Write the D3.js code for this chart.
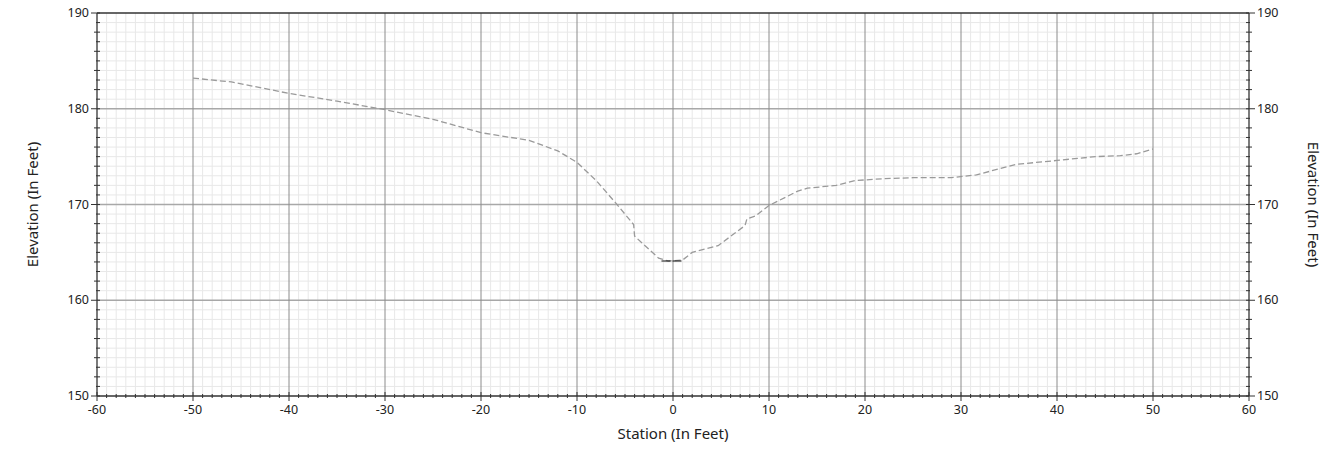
<!DOCTYPE html>
<html>
<head>
<meta charset="utf-8">
<script src="https://cdn.jsdelivr.net/npm/d3@7"></script>
<style>
  body { margin: 0; background: #fff; }
  svg text { font-family: "Noto Sans", "Open Sans", sans-serif; fill: #222; }
</style>
</head>
<body>
<div id="chart"></div>
<script>
// profile data (station, elevation)
const stations = [-50, -46, -43, -40, -35, -30, -25, -20, -15, -12, -10, -8, -6, -4.1, -4.0, -1.5, -0.5, 1, 2, 4.7, 7.5, 7.7, 8.6, 10, 13, 14, 17, 19, 22, 25, 29, 31.6, 35.8, 40, 44, 46.6, 48.3, 50]
const elevations = [183.2, 182.8, 182.2, 181.6, 180.8, 179.9, 178.9, 177.5, 176.7, 175.6, 174.4, 172.5, 170.2, 167.9, 166.7, 164.4, 164.1, 164.2, 165.0, 165.7, 167.8, 168.5, 168.8, 169.9, 171.4, 171.7, 172.0, 172.5, 172.7, 172.8, 172.8, 173.1, 174.2, 174.6, 175.0, 175.1, 175.3, 175.8]
const waterStations = [-1.2, 0.9]
const waterElevation = 164.1

const xTicks = [-60, -50, -40, -30, -20, -10, 0, 10, 20, 30, 40, 50, 60]
const yTicks = [150, 160, 170, 180, 190]

const w = 1324
const h = 450
const margin = {top: 13, right: 75, bottom: 54, left: 97}

const svg = d3.select("#chart")
  .append("svg")
    .attr("width", w)
    .attr("height", h)

const x = d3.scaleLinear().domain([-60, 60]).range([margin.left, w - margin.right])
const y = d3.scaleLinear().domain([150, 190]).range([h - margin.bottom, margin.top])

const x0 = x.range()[0], x1 = x.range()[1]
const y0 = y.range()[0], y1 = y.range()[1]

// minor grid every 1 ft
svg.append("g")
  .selectAll("line")
  .data(d3.range(-60, 61).filter(d => d % 10 !== 0))
  .join("line")
    .attr("x1", d => x(d)).attr("x2", d => x(d))
    .attr("y1", y1).attr("y2", y0)
    .attr("stroke", "#e8e8e8")
svg.append("g")
  .selectAll("line")
  .data(d3.range(150, 191).filter(d => d % 10 !== 0))
  .join("line")
    .attr("x1", x0).attr("x2", x1)
    .attr("y1", d => y(d)).attr("y2", d => y(d))
    .attr("stroke", "#e8e8e8")

// major grid
svg.append("g")
  .selectAll("line")
  .data(yTicks.slice(1, -1))
  .join("line")
    .attr("x1", x0).attr("x2", x1)
    .attr("y1", d => y(d)).attr("y2", d => y(d))
    .attr("stroke", "#a8a8a8")
    .attr("stroke-width", 1.3)
svg.append("g")
  .selectAll("line")
  .data(xTicks.slice(1, -1))
  .join("line")
    .attr("x1", d => x(d)).attr("x2", d => x(d))
    .attr("y1", y1).attr("y2", y0)
    .attr("stroke", "#8c8c8c")

// ground profile
const pts = stations.map((s, i) => [s, elevations[i]])
svg.append("path")
  .datum(pts)
  .attr("fill", "none")
  .attr("stroke", "#9a9a9a")
  .attr("stroke-width", 1.3)
  .attr("stroke-dasharray", "6,3")
  .attr("d", d3.line().x(d => x(d[0])).y(d => y(d[1])))

// water surface
svg.append("line")
  .attr("x1", x(waterStations[0])).attr("x2", x(waterStations[1]))
  .attr("y1", y(waterElevation)).attr("y2", y(waterElevation))
  .attr("stroke", "#111")
  .attr("stroke-width", 1.2)
  .attr("stroke-dasharray", "9,2")

// axes
const minorX = d3.range(-60, 61)
const minorY = d3.range(150, 191)

const bottom = svg.append("g").attr("transform", `translate(0,${y0})`)
bottom.append("line").attr("x1", x0).attr("x2", x1).attr("stroke", "#333").attr("stroke-width", 1.3)
bottom.selectAll(".mt").data(minorX).join("line")
  .attr("x1", d => x(d)).attr("x2", d => x(d))
  .attr("y1", d => d % 10 === 0 ? -4 : -2).attr("y2", d => d % 10 === 0 ? 5 : 2)
  .attr("stroke", "#333")
bottom.selectAll("text").data(xTicks).join("text")
  .attr("x", d => x(d)).attr("y", 18)
  .attr("text-anchor", "middle")
  .style("font-size", "12.5px")
  .text(d => d)

svg.append("line").attr("x1", x0).attr("x2", x1).attr("y1", y1).attr("y2", y1)
  .attr("stroke", "#333").attr("stroke-width", 1.3)

const left = svg.append("g").attr("transform", `translate(${x0},0)`)
left.append("line").attr("y1", y1).attr("y2", y0).attr("stroke", "#333").attr("stroke-width", 1.3)
left.selectAll(".mt").data(minorY).join("line")
  .attr("y1", d => y(d)).attr("y2", d => y(d))
  .attr("x1", d => d % 10 === 0 ? -6 : (d % 2 === 0 ? -3 : -1)).attr("x2", 3)
  .attr("stroke", "#333")
left.selectAll("text").data(yTicks).join("text")
  .attr("x", -8).attr("y", d => y(d) + 4)
  .attr("text-anchor", "end")
  .style("font-size", "12.5px")
  .text(d => d)

const right = svg.append("g").attr("transform", `translate(${x1},0)`)
right.append("line").attr("y1", y1).attr("y2", y0).attr("stroke", "#333").attr("stroke-width", 1.3)
right.selectAll(".mt").data(minorY).join("line")
  .attr("y1", d => y(d)).attr("y2", d => y(d))
  .attr("x1", -3).attr("x2", d => d % 10 === 0 ? 6 : (d % 2 === 0 ? 3 : 1))
  .attr("stroke", "#333")
right.selectAll("text").data(yTicks).join("text")
  .attr("x", 8).attr("y", d => y(d) + 4)
  .attr("text-anchor", "start")
  .style("font-size", "12.5px")
  .text(d => d)

// axis titles
svg.append("text")
  .attr("x", (x0 + x1) / 2).attr("y", 439)
  .attr("text-anchor", "middle")
  .style("font-size", "15px")
  .text("Station (In Feet)")
svg.append("text")
  .attr("transform", `translate(38,${(y0 + y1) / 2}) rotate(-90)`)
  .attr("text-anchor", "middle")
  .style("font-size", "15px")
  .text("Elevation (In Feet)")
svg.append("text")
  .attr("transform", `translate(1308,${(y0 + y1) / 2}) rotate(90)`)
  .attr("text-anchor", "middle")
  .style("font-size", "15px")
  .text("Elevation (In Feet)")
</script>
</body>
</html>
